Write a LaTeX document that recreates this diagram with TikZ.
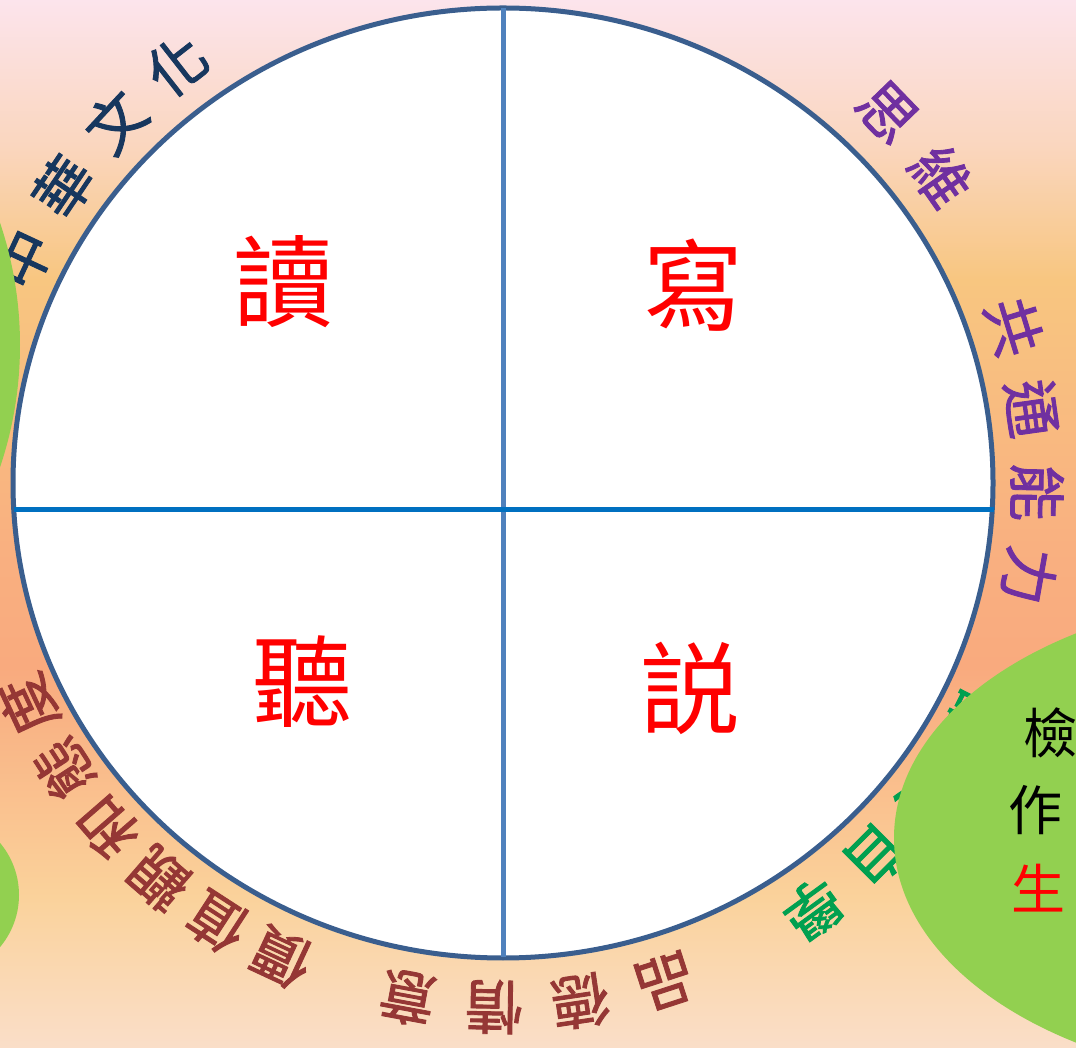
\documentclass[tikz,border=0pt]{standalone}
\usepackage{fontspec}
\newfontfamily\cjk{Noto Sans CJK TC}
\newfontfamily\cjkring[FakeBold=1.5]{Noto Sans CJK TC}
\usetikzlibrary{calc}
\definecolor{bgA}{RGB}{252,228,236}
\definecolor{bgB}{RGB}{250,214,190}
\definecolor{bgC}{RGB}{248,198,128}
\definecolor{bgD}{RGB}{249,176,128}
\definecolor{bgE}{RGB}{249,170,126}
\definecolor{bgF}{RGB}{250,210,155}
\definecolor{bgG}{RGB}{250,222,200}
\definecolor{ringline}{RGB}{58,94,142}
\definecolor{vline}{RGB}{79,129,189}
\definecolor{hline}{RGB}{0,112,192}
\definecolor{navytxt}{RGB}{23,55,94}
\definecolor{purtxt}{RGB}{112,48,160}
\definecolor{grntxt}{RGB}{0,160,80}
\definecolor{redtxt}{RGB}{149,55,53}
\definecolor{leaf}{RGB}{146,208,80}
\begin{document}
\begin{tikzpicture}[x=1pt,y=1pt,
  ring/.style={font=\cjkring\fontsize{58}{60}\selectfont, inner sep=0pt},
  quad/.style={font=\cjk\fontsize{100}{110}\selectfont, text={rgb,255:red,255;green,0;blue,0}, inner sep=0pt},
  leaftxt/.style={font=\cjk\fontsize{54}{60}\selectfont, inner sep=0pt, anchor=west},
  divider/.style={line width=5pt}]
\useasboundingbox (0,0) rectangle (1076,1047);
\clip (0,0) rectangle (1076,1047);
% background
\shade[top color=bgA, bottom color=bgB] (0,1047) rectangle (1076,900);
\shade[top color=bgB, bottom color=bgC] (0,900.5) rectangle (1076,767);
\shade[top color=bgC, bottom color=bgD] (0,767.5) rectangle (1076,500);
\shade[top color=bgD, bottom color=bgE] (0,500.5) rectangle (1076,380);
\shade[top color=bgE, bottom color=bgF] (0,380.5) rectangle (1076,150);
\shade[top color=bgF, bottom color=bgG] (0,150.5) rectangle (1076,0);
\coordinate (c) at (503,564);
% ring texts
\foreach \a/\t [count=\i] in {155/中,146/華,137/文,128/化}
  \node[ring, text=navytxt, rotate=\a-90] (na\i) at ($(c)+(\a:530)$) {\t};
\foreach \a/\t [count=\i] in {44/思,35/維,17/共,8/通,-1/能,-10/力}
  \node[ring, text=purtxt, rotate=\a-90] (pu\i) at ($(c)+(\a:534)$) {\t};
\foreach \a/\t [count=\i] in {-27/語,-36/文,-45/自,-54/學}
  \node[ring, text=grntxt, rotate=\a-90] (gr\i) at ($(c)+(\a:527)$) {\t};
\foreach \a/\t [count=\i] in {-72/品,-81.5/德,-91/情,-100.5/意,-115/價,-123/值,-131/觀,-139/和,-147/態,-155/度}
  \node[ring, text=redtxt, rotate=\a-90] (rd\i) at ($(c)+(\a:524)$) {\t};
% main circle
\draw[line width=5pt, draw=ringline, fill=white] (c) ellipse [x radius=490, y radius=475];
\coordinate (top) at (503,1039);
\coordinate (bot) at (503,90);
\coordinate (lft) at (14,537);
\coordinate (rgt) at (994,537);
\draw[divider, draw=vline] (top) -- (bot);
\draw[divider, draw=hline] (lft) -- (rgt);
% quadrant labels
\node[quad] (du) at (283,765) {讀};
\node[quad] (xie) at (693,762) {寫};
\node[quad] (ting) at (302,365) {聽};
\node[quad] (shuo) at (690,359) {説};
% green shapes
\fill[leaf] (1294,209) ellipse [x radius=400, y radius=244];
\fill[leaf] (-362,702) circle [radius=382];
\fill[leaf] (-62,152) circle [radius=81];
% text in green shape
\node[leaftxt, text=black] (jian) at (1023,314) {檢};
\node[leaftxt, text=black] (zuo) at (1008,237) {作};
\node[leaftxt, text={rgb,255:red,255;green,0;blue,0}] (sheng) at (1011,159) {生};
\end{tikzpicture}
\end{document}
